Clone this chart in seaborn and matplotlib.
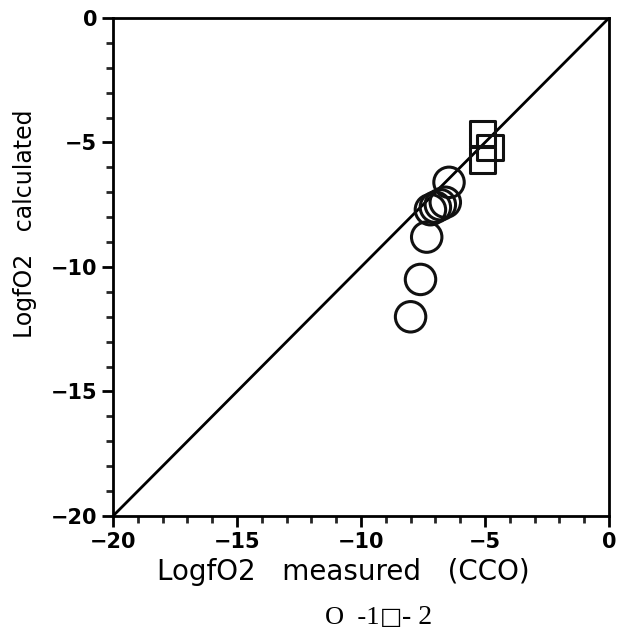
import matplotlib
matplotlib.use('Agg')
import matplotlib.pyplot as plt
import seaborn as sns
import pandas as pd
from matplotlib.ticker import MultipleLocator

# values
circle_measured = [-8.0, -7.6, -7.35, -7.2, -7.0, -6.8, -6.6, -6.45]
circle_calculated = [-12.0, -10.5, -8.8, -7.7, -7.6, -7.5, -7.4, -6.6]
square_measured = [-5.1, -5.1, -4.8]
square_calculated = [-4.65, -5.7, -5.2]
line_x = [-20, 0]
line_y = [-20, 0]

sns.set_style('white')
plt.rcParams['font.family'] = ['DejaVu Sans']

W, H = 626, 635
fig = plt.figure(figsize=(W / 100, H / 100), dpi=100)
ax = fig.add_axes([0.1805, 0.1874, 0.7923, 0.7843])

sns.lineplot(x=line_x, y=line_y, color='black', linewidth=2.0, ax=ax)
sns.scatterplot(x=circle_measured, y=circle_calculated, marker='o', s=480,
                facecolor='none', edgecolor='#111111', linewidth=2.2, ax=ax, zorder=3)
sns.scatterplot(x=square_measured, y=square_calculated, marker='s', s=330,
                facecolor='none', edgecolor='#111111', linewidth=2.2, ax=ax, zorder=3)

ax.set_xlim(-20, 0)
ax.set_ylim(-20, 0)
ax.xaxis.set_major_locator(MultipleLocator(5))
ax.yaxis.set_major_locator(MultipleLocator(5))
ax.xaxis.set_minor_locator(MultipleLocator(1))
ax.yaxis.set_minor_locator(MultipleLocator(1))
ax.tick_params(which='major', direction='out', length=8, width=2, colors='black',
               labelsize=15, bottom=True, left=True)
ax.tick_params(which='minor', direction='out', length=5, width=2, bottom=True, left=True)
for lab in ax.get_xticklabels() + ax.get_yticklabels():
    lab.set_fontweight('bold')
for sp in ax.spines.values():
    sp.set_color('black')
    sp.set_linewidth(2)

ax.set_xlabel('LogfO2   measured   (CCO)', fontsize=20, color='black')
ax.set_ylabel('LogfO2   calculated', fontsize=17, color='black')
ax.xaxis.set_label_coords(0.464, -0.112)
ax.yaxis.set_label_coords(-0.177, 0.586)
ax.xaxis.label.set_va('center')
ax.yaxis.label.set_va('center')

# symbol key under the chart, laid out piece by piece so the box can be sized
serif = ['Liberation Serif', 'DejaVu Serif']
base = 1 - 624 / H
pieces = [('O  -1', 19, serif, 0), ('\u25a1', 17, ['DejaVu Sans'], 0), ('- 2', 20, serif, 0)]
renderer = fig.canvas.get_renderer()
xpix = 325
for txt, size, fam, gap in pieces:
    t = fig.text(xpix / W, base, txt, ha='left', va='baseline', fontsize=size,
                 color='black', family=fam)
    xpix = t.get_window_extent(renderer).x1 + gap

fig.savefig('out.png', dpi=100)
